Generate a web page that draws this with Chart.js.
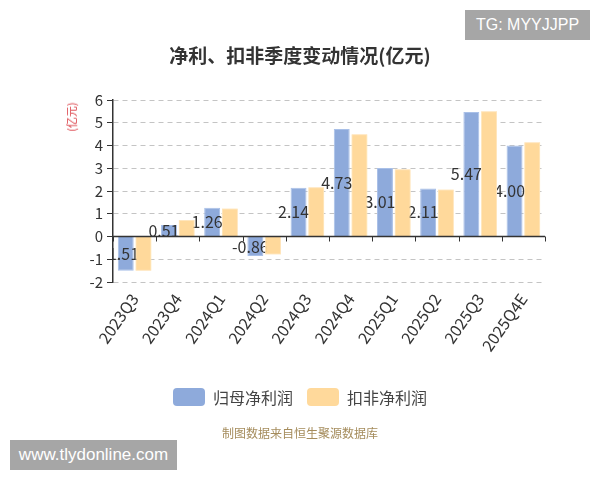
<!DOCTYPE html>
<html>
<head>
<meta charset="utf-8">
<script src="https://cdn.jsdelivr.net/npm/chart.js@4/dist/chart.umd.min.js"></script>
<style>
  html, body { margin: 0; padding: 0; background: #fff; }
  #wrap { position: relative; width: 600px; height: 480px; overflow: hidden; font-family: "Noto Sans CJK SC", "Noto Sans", sans-serif; }
  #c { position: absolute; left: 0; top: 0; }
  .abs { position: absolute; white-space: nowrap; }
  #title { left: 0; top: 42px; width: 600px; text-align: center; font-size: 19px; font-weight: bold; color: #333; line-height: 26px; }
  #tg { left: 465px; top: 10px; width: 125px; height: 30px; background: #a6a6a6; color: #fff; font-family: "Liberation Sans", Arial, sans-serif; font-size: 16px; line-height: 30px; text-align: center; }
  #www { left: 10px; top: 440px; width: 167px; height: 30px; background: #a6a6a6; color: #fff; font-family: "Liberation Sans", Arial, sans-serif; font-size: 17px; line-height: 30px; text-align: center; }
  #yt { left: 71px; top: 117px; transform: translate(-50%, -50%) rotate(-90deg); color: #d9363e; font-size: 11px; line-height: 12px; }
  #src { left: 0; top: 425px; width: 600px; text-align: center; color: #a58c5c; font-size: 12px; line-height: 16px; }
  .lbox { width: 32px; height: 18px; border-radius: 4px; top: 388px; }
  .ltxt { top: 386px; font-size: 16px; line-height: 22px; color: #444; }
</style>
</head>
<body>
<div id="wrap">
  <canvas id="c" width="600" height="480"></canvas>
  <div id="title" class="abs">净利、扣非季度变动情况(亿元)</div>
  <div id="tg" class="abs">TG: MYYJJPP</div>
  <div id="www" class="abs">www.tlydonline.com</div>
  <div id="yt" class="abs">(亿元)</div>
  <div id="src" class="abs">制图数据来自恒生聚源数据库</div>
  <div id="lb0" class="abs lbox" style="left:173px"></div>
  <div id="lt0" class="abs ltxt" style="left:213px"></div>
  <div id="lb1" class="abs lbox" style="left:307px"></div>
  <div id="lt1" class="abs ltxt" style="left:347px"></div>
</div>
<script>
const categories = ['2023Q3', '2023Q4', '2024Q1', '2024Q2', '2024Q3', '2024Q4', '2025Q1', '2025Q2', '2025Q3', '2025Q4E'];
const netProfit = [-1.51, 0.51, 1.26, -0.86, 2.14, 4.73, 3.01, 2.11, 5.47, 4.00];
const deductedProfit = [-1.50, 0.72, 1.23, -0.79, 2.16, 4.49, 2.96, 2.07, 5.51, 4.14];
const seriesNames = ['归母净利润', '扣非净利润'];
const seriesColors = ['#8eaadb', '#ffd99b'];
const seriesBorders = ['#a9c0e8', '#ffe6bd'];
const yMin = -2, yMax = 6, yStep = 1;

const FONT = '"Noto Sans CJK SC", "Noto Sans", sans-serif';

// legend
seriesNames.forEach((n, i) => {
  document.getElementById('lb' + i).style.background = seriesColors[i];
  document.getElementById('lt' + i).textContent = n;
});

const labelPlugin = {
  id: 'barLabels',
  afterDatasetDraw(chart, args) {
    if (args.index !== 0) return;
    const ctx = chart.ctx;
    const area = chart.chartArea;
    const meta = chart.getDatasetMeta(0);
    ctx.save();
    ctx.beginPath();
    ctx.rect(area.left, area.top, area.right - area.left, area.bottom - area.top);
    ctx.clip();
    ctx.font = '16px ' + FONT;
    ctx.fillStyle = '#333';
    ctx.textAlign = 'center';
    ctx.textBaseline = 'middle';
    meta.data.forEach((bar, i) => {
      const v = chart.data.datasets[0].data[i];
      ctx.fillText(v.toFixed(2), bar.x - 5, (bar.y + bar.base) / 2);
    });
    // second series is drawn over the first series' labels
    chart.getDatasetMeta(1).controller.draw();
    ctx.restore();
  }
};

const axisPlugin = {
  id: 'zeroAxis',
  afterDatasetsDraw(chart) {
    const ctx = chart.ctx;
    const area = chart.chartArea;
    const xs = chart.scales.x, ys = chart.scales.y;
    const y0 = ys.getPixelForValue(0);
    const half = (xs.getPixelForTick(1) - xs.getPixelForTick(0)) / 2;
    ctx.save();
    ctx.strokeStyle = '#333';
    ctx.lineWidth = 1.5;
    ctx.beginPath();
    ctx.moveTo(area.left, y0);
    ctx.lineTo(area.right, y0);
    ctx.stroke();
    ctx.lineWidth = 1;
    ctx.beginPath();
    for (let i = 0; i <= categories.length; i++) {
      const x = Math.round(xs.getPixelForTick(0) - half + i * 2 * half) + 0.5;
      ctx.moveTo(x, y0);
      ctx.lineTo(x, y0 + 5);
    }
    ctx.stroke();
    ctx.restore();
  }
};

new Chart(document.getElementById('c'), {
  type: 'bar',
  data: {
    labels: categories,
    datasets: [
      { label: seriesNames[0], data: netProfit, backgroundColor: seriesColors[0], borderColor: seriesBorders[0], borderWidth: 1, categoryPercentage: 0.82, barPercentage: 0.9 },
      { label: seriesNames[1], data: deductedProfit, backgroundColor: seriesColors[1], borderColor: seriesBorders[1], borderWidth: 1, categoryPercentage: 0.82, barPercentage: 0.9 }
    ]
  },
  options: {
    responsive: false,
    animation: false,
    devicePixelRatio: 1,
    layout: { padding: { left: 0, right: 55, top: 100, bottom: 118 } },
    plugins: { legend: { display: false }, title: { display: false }, tooltip: { enabled: false } },
    scales: {
      x: {
        grid: { display: false, drawTicks: false },
        border: { display: false },
        ticks: { color: '#333', font: { size: 16, family: FONT }, minRotation: 55, maxRotation: 55, padding: 8, autoSkip: false },
        afterFit(s) { s.height = 80; }
      },
      y: {
        min: yMin, max: yMax,
        border: { display: true, color: '#333', width: 1.5, dash: [5, 4] },
        grid: { color: '#c4c4c4', lineWidth: 1, tickColor: '#333', tickLength: 6, tickBorderDash: [] },
        ticks: { stepSize: yStep, color: '#333', font: { size: 15, family: FONT }, padding: 4 },
        afterFit(s) { s.width = 113; }
      }
    }
  },
  plugins: [labelPlugin, axisPlugin]
});
</script>
</body>
</html>
